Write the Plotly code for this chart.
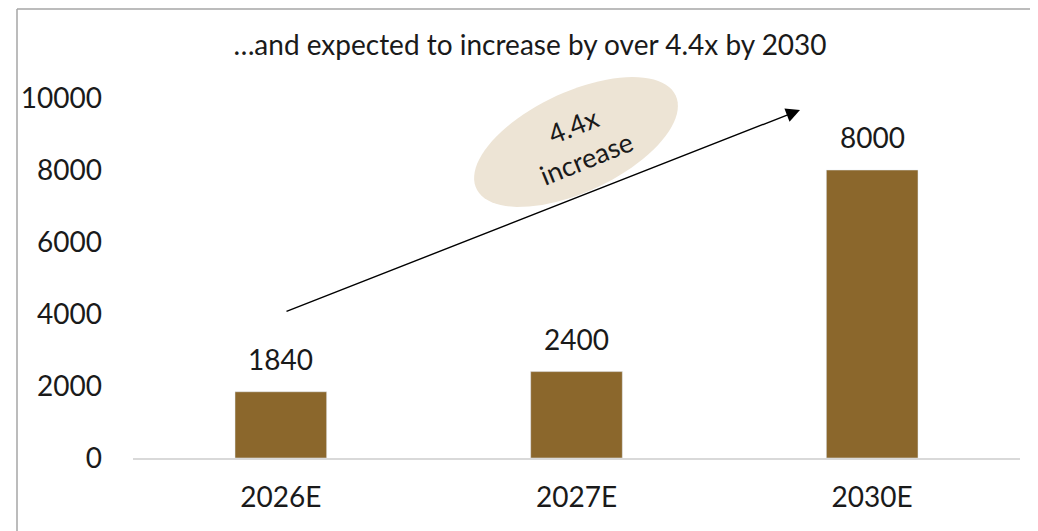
import numpy as np
import plotly.graph_objects as go

categories = ["2026E", "2027E", "2030E"]
values = [1840, 2400, 8000]
y_ticks = [0, 2000, 4000, 6000, 8000, 10000]
y_ticktext = ["0", "2000", "4000", "6000", "8000", "10000"]
title_text = "…and expected to increase by over 4.4x by 2030"
callout_text = "4.4x<br>increase"

BAR = "#8B672C"
ELL = "#EDE4D5"
FONT = "Lato"
FS = 28

OFF = 8  # page body margin
W, H = 1038 - OFF, 531 - OFF
L, R, T, B = 133 - OFF, 18, 98 - OFF, 73
pw, ph = W - L - R, H - T - B


def px_to_data(px, py):
    px -= OFF
    py -= OFF
    x = -0.5 + (px - L) / pw * 3.0
    y = (H - B - py) / ph * 10000
    return x, y


def px_to_paper(px, py):
    px -= OFF
    py -= OFF
    return (px - L) / pw, (H - B - py) / ph


fig = go.Figure()
fig.add_trace(go.Bar(x=list(range(len(categories))), y=values, marker_color=BAR,
                     width=0.31, hoverinfo="skip"))

annotations = []
for i, v in enumerate(values):
    annotations.append(dict(x=i, y=v, text=str(v), showarrow=False, yanchor="bottom",
                            yshift=14, font=dict(size=FS, color="#1a1a1a", family=FONT)))

# arrow
x0, y0 = px_to_data(285, 312)
x1, y1 = px_to_data(800, 110)
annotations.append(dict(x=x1, y=y1, ax=x0, ay=y0, xref="x", yref="y", axref="x", ayref="y",
                        showarrow=True, arrowhead=2, arrowsize=2.0, arrowwidth=1.4,
                        arrowcolor="#000000", text=""))

# callout ellipse (rotated)
cx, cy, a, b, th = 576, 142, 110, 50, np.deg2rad(-25)
t = np.linspace(0, 2 * np.pi, 90)
ex = cx + a * np.cos(t) * np.cos(th) - b * np.sin(t) * np.sin(th)
ey = cy + a * np.cos(t) * np.sin(th) + b * np.sin(t) * np.cos(th)
pts = [px_to_paper(px, py) for px, py in zip(ex, ey)]
path = "M " + " L ".join(f"{p[0]:.5f},{p[1]:.5f}" for p in pts) + " Z"
shapes = [dict(type="path", path=path, xref="paper", yref="paper", fillcolor=ELL,
               line=dict(width=0), layer="below")]

tx, ty = px_to_paper(579, 142)
annotations.append(dict(x=tx, y=ty, xref="paper", yref="paper", text=callout_text,
                        showarrow=False, textangle=-22, xanchor="center", yanchor="middle",
                        font=dict(size=FS - 1, color="#1a1a1a", family=FONT)))

# frame lines (top & left)
fx, fy = px_to_paper(17, 9)
shapes.append(dict(type="line", xref="paper", yref="paper",
                   x0=fx, x1=1.05, y0=fy, y1=fy, line=dict(color="#A6A6A6", width=1.5)))
shapes.append(dict(type="line", xref="paper", yref="paper",
                   x0=fx, x1=fx, y0=fy, y1=-0.5, line=dict(color="#A6A6A6", width=1.5)))

fig.update_layout(
    width=W, height=H,
    margin=dict(l=L, r=R, t=T, b=B, pad=0),
    paper_bgcolor="white", plot_bgcolor="white",
    showlegend=False,
    title=dict(text=title_text, x=(530 - OFF) / W, xanchor="center", y=1 - (45 - OFF) / H,
               yanchor="middle", font=dict(size=FS, color="#1a1a1a", family=FONT)),
    font=dict(family=FONT, color="#1a1a1a"),
    annotations=annotations,
    shapes=shapes,
)
fig.update_xaxes(range=[-0.5, 2.5], tickvals=list(range(len(categories))), ticktext=categories,
                 showgrid=False, zeroline=False, showline=True, linecolor="#D9D9D9", linewidth=1.5,
                 ticks="", tickfont=dict(size=FS, family=FONT), ticklabelstandoff=14)
fig.update_yaxes(range=[0, 10000], tickvals=y_ticks, ticktext=y_ticktext, showgrid=False,
                 zeroline=False, showline=False, ticks="",
                 tickfont=dict(size=FS, family=FONT), ticklabelstandoff=30)

fig.write_html("out.html")
